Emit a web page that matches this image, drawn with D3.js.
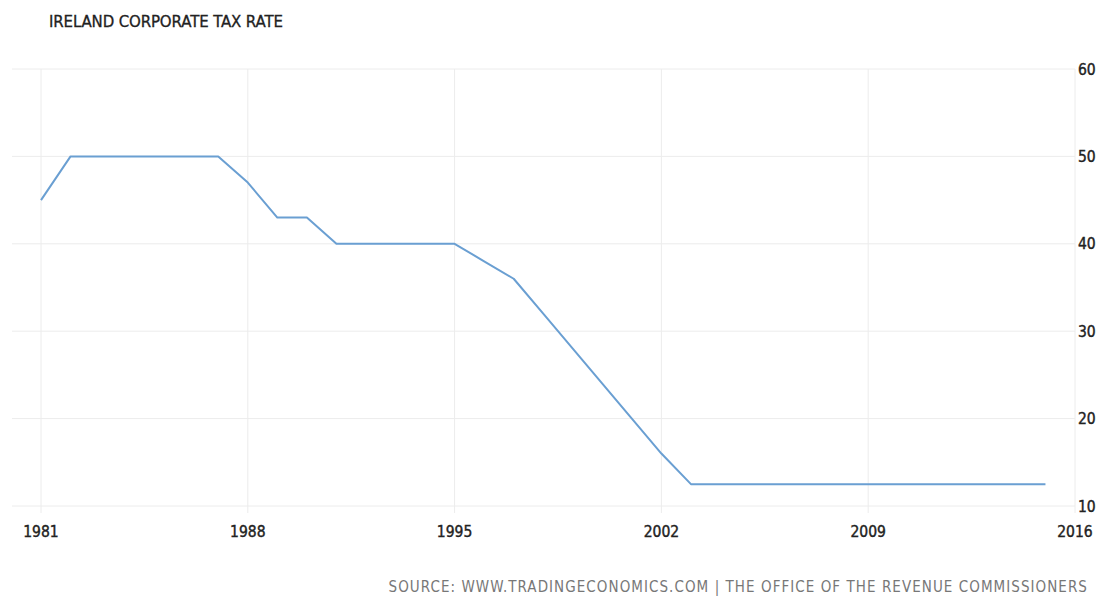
<!DOCTYPE html>
<html><head><meta charset="utf-8">
<script src="https://cdn.jsdelivr.net/npm/d3@7"></script>
<style>body{margin:0;background:#fff}svg{display:block}</style>
</head><body>
<svg id="c" width="1100" height="596"></svg>
<script>
const years = [1981,1982,1983,1984,1985,1986,1987,1988,1989,1990,1991,1992,1993,1994,1995,1996,1997,1998,1999,2000,2001,2002,2003,2004,2005,2006,2007,2008,2009,2010,2011,2012,2013,2014,2015];
const rates = [45,50,50,50,50,50,50,47,43,43,40,40,40,40,40,38,36,32,28,24,20,16,12.5,12.5,12.5,12.5,12.5,12.5,12.5,12.5,12.5,12.5,12.5,12.5,12.5];
const xTicks = [1981,1988,1995,2002,2009,2016];
const yTicks = [10,20,30,40,50,60];
const title = "IRELAND CORPORATE TAX RATE";
const source = "SOURCE: WWW.TRADINGECONOMICS.COM | THE OFFICE OF THE REVENUE COMMISSIONERS";

const svg = d3.select("#c");
const x = d3.scaleLinear().domain([1981,2016]).range([41,1075]);
const y = d3.scaleLinear().domain([10,60]).range([506,69]);
const font = "'DejaVu Sans Condensed','DejaVu Sans',sans-serif";
const font2 = "'DejaVu Sans',sans-serif";

svg.append("g").selectAll("line").data(yTicks).join("line")
  .attr("x1",12).attr("x2",1075).attr("y1",d=>y(d)).attr("y2",d=>y(d))
  .attr("stroke","#ececec").attr("stroke-width",1);
svg.append("g").selectAll("line").data(xTicks).join("line")
  .attr("x1",d=>x(d)).attr("x2",d=>x(d)).attr("y1",69).attr("y2",513)
  .attr("stroke","#ececec").attr("stroke-width",1);

svg.append("g").selectAll("text").data(yTicks).join("text")
  .attr("x",1078).attr("y",d=>y(d)).attr("dy","0.36em")
  .attr("font-family",font).attr("font-size",15.5).attr("fill","#222")
  .attr("stroke","#222").attr("stroke-width",0.4)
  .text(d=>d);
svg.append("g").selectAll("text").data(xTicks).join("text")
  .attr("x",d=>x(d)).attr("y",531).attr("dy","0.36em").attr("text-anchor","middle")
  .attr("font-family",font).attr("font-size",15.5).attr("fill","#222")
  .attr("stroke","#222").attr("stroke-width",0.4)
  .text(d=>d);

const line = d3.line().x((d,i)=>x(years[i])).y(d=>y(d));
svg.append("path").datum(rates).attr("d",line)
  .attr("fill","none").attr("stroke","#6a9fd2").attr("stroke-width",2).attr("stroke-linejoin","round");

svg.append("text").attr("x",49).attr("y",22).attr("dy","0.36em")
  .attr("font-family",font2).attr("font-size",15).attr("fill","#222")
  .attr("stroke","#222").attr("stroke-width",0.3).attr("textLength",234)
  .text(title);

svg.append("text").attr("x",1088).attr("y",587).attr("dy","0.36em").attr("text-anchor","end")
  .attr("font-family",font).attr("font-size",15).attr("fill","#777").attr("letter-spacing","1.05")
  .text(source);
</script>
</body></html>
